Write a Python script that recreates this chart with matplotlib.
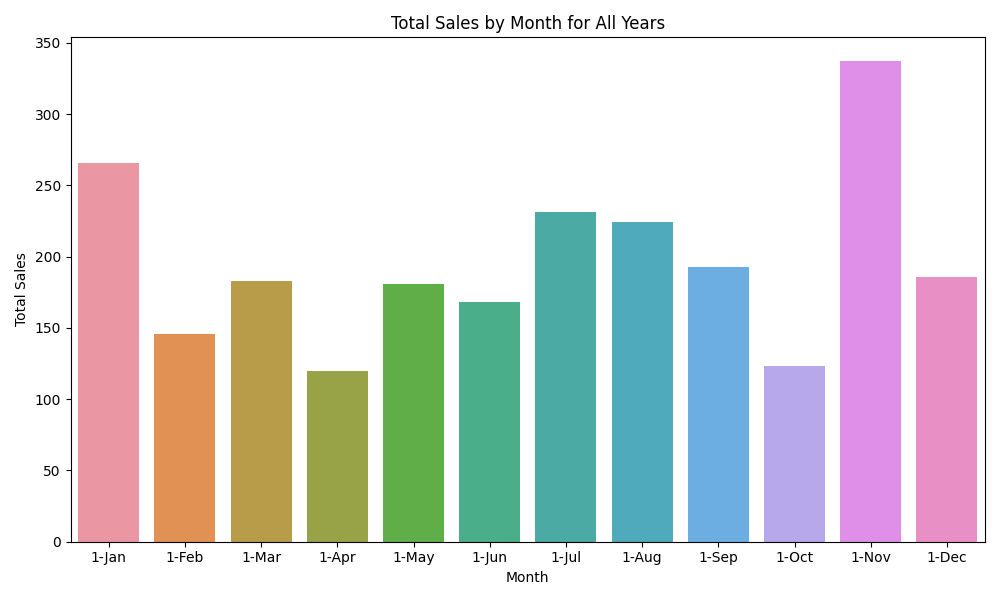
import matplotlib
matplotlib.use("Agg")
import matplotlib.pyplot as plt
import seaborn as sns
import pandas as pd

# 月份與銷售總額
months = ['1-Jan', '1-Feb', '1-Mar', '1-Apr', '1-May', '1-Jun',
          '1-Jul', '1-Aug', '1-Sep', '1-Oct', '1-Nov', '1-Dec']
total_sales = [266, 146, 183, 119.5, 180.5, 168.5, 231.5, 224.5, 193, 123, 337, 186]

df = pd.DataFrame({'Month': months, 'Total Sales': total_sales})

fig, ax = plt.subplots(figsize=(10, 6))
# 舊版 seaborn 類別數過多時使用 husl(l=.7) 調色盤
sns.barplot(data=df, x='Month', y='Total Sales', hue='Month',
            palette=sns.husl_palette(len(months), l=.7),
            saturation=0.75, legend=False, ax=ax)

ax.set_title('Total Sales by Month for All Years')
ax.set_xlabel('Month')
ax.set_ylabel('Total Sales')

plt.tight_layout()
plt.savefig('out.png', dpi=100)
